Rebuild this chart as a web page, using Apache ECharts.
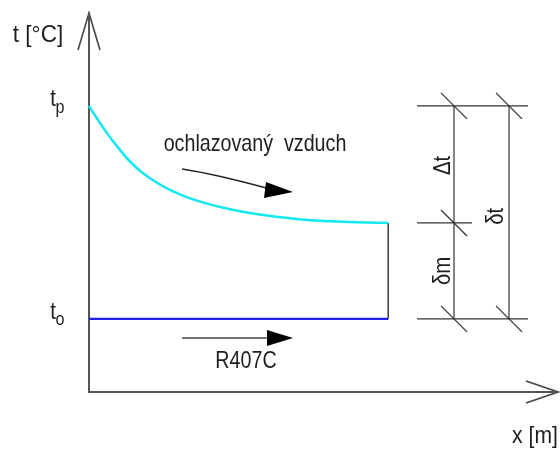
<!DOCTYPE html>
<html>
<head>
<meta charset="utf-8">
<script src="https://cdn.jsdelivr.net/npm/echarts@6/dist/echarts.min.js"></script>
<style>
  html, body { margin: 0; padding: 0; background: #fff; }
  #chart { width: 560px; height: 449px; }
</style>
</head>
<body>
<div id="chart"></div>
<script>
// Air temperature along the evaporator (cooled air) and refrigerant temperature
const curveX = [0, 3, 6, 10, 14, 18, 22, 28, 34, 41, 50, 63.8];
const curveT = [75.5, 69.8, 64.8, 59.3, 55.6, 52.9, 50.9, 48.8, 47.3, 46.1, 45.1, 44.6];
const refrigX = [0, 63.8];
const refrigT = [19.3, 19.3];
const axisMax = [100, 100];

const FONT = "'Liberation Sans', Arial, sans-serif";
const INK = '#333';

const chart = echarts.init(document.getElementById('chart'), null, { renderer: 'canvas' });

const airData = curveX.map((x, i) => [x, curveT[i]]);
const refData = refrigX.map((x, i) => [x, refrigT[i]]);
const xEnd = curveX[curveX.length - 1];
const tEnd = curveT[curveT.length - 1];
const tStart = curveT[0];
const tRef = refrigT[0];

chart.setOption({
  animation: false,
  backgroundColor: '#fff',
  grid: { left: 89, top: 13, right: 2, bottom: 57 },
  xAxis: {
    type: 'value', min: 0, max: axisMax[0],
    axisLine: { show: true, lineStyle: { color: '#555', width: 2 } },
    axisTick: { show: false }, axisLabel: { show: false }, splitLine: { show: false }
  },
  yAxis: {
    type: 'value', min: 0, max: axisMax[1],
    axisLine: { show: true, lineStyle: { color: '#555', width: 2 } },
    axisTick: { show: false }, axisLabel: { show: false }, splitLine: { show: false }
  },
  series: [
    {
      name: 'ochlazovaný vzduch', type: 'line', data: airData, smooth: 0.5,
      symbol: 'none', lineStyle: { color: '#12e8f2', width: 2.5 }, z: 5
    },
    {
      name: 'R407C', type: 'line', data: refData,
      symbol: 'none', lineStyle: { color: '#2020ee', width: 2.2 }, z: 5
    },
    {
      name: 'konec', type: 'line', data: [[xEnd, tEnd], [xEnd, tRef]],
      symbol: 'none', lineStyle: { color: '#444', width: 1.6 }, z: 4
    }
  ]
});

// pixel anchors from the axes
const px = (x, y) => chart.convertToPixel({ gridIndex: 0 }, [x, y]);
const yTop = px(0, axisMax[1]);
const xTip = px(axisMax[0], 0);
const yStartPx = px(0, tStart)[1];
const yEndPx = px(0, tEnd)[1];
const yRefPx = px(0, tRef)[1];

const g = [];
const line = (x1, y1, x2, y2, w, c) => g.push({
  type: 'line', shape: { x1, y1, x2, y2 }, style: { stroke: c || INK, lineWidth: w || 1.2 }, silent: true
});
// condensed lettering: horizontal squeeze of a regular sans face
const text = (t, x, y, size, sx, rotation) => g.push({
  type: 'text', x, y, scaleX: sx, scaleY: 1, rotation: rotation || 0,
  style: { text: t, font: size + 'px ' + FONT, fill: '#1e1e1e', align: 'center', verticalAlign: 'middle' }
});

// open arrowheads on the axes
g.push({ type: 'polyline', shape: { points: [[yTop[0] - 11, yTop[1] + 37], [yTop[0], yTop[1]], [yTop[0] + 11, yTop[1] + 37]] },
  style: { stroke: '#444', lineWidth: 1.6, fill: null } });
g.push({ type: 'polyline', shape: { points: [[xTip[0] - 32, xTip[1] - 11], [xTip[0], xTip[1]], [xTip[0] - 32, xTip[1] + 11]] },
  style: { stroke: '#444', lineWidth: 1.6, fill: null } });

// axis titles
text('t [°C]', 38, 35, 24, 0.94);
text('x [m]', 535, 436, 24, 0.88);

// level labels t_p and t_o
text('t', 53, yStartPx - 6, 24, 0.85);
text('p', 60, yStartPx + 2, 19, 0.85);
text('t', 53, yRefPx - 6, 24, 0.85);
text('o', 60, yRefPx + 1, 19, 0.85);

// flow direction: cooled air
g.push({ type: 'bezierCurve', shape: { x1: 182, y1: 169, cpx1: 215, cpy1: 174, x2: 270, y2: 189 },
  style: { stroke: '#222', lineWidth: 1.3, fill: null } });
g.push({ type: 'polygon', shape: { points: [[266, 182], [293, 192], [264, 198]] }, style: { fill: '#000' } });
text('ochlazovaný  vzduch', 255, 144, 24, 0.82);

// flow direction: refrigerant
line(182, 338, 268, 338, 1.4, '#444');
g.push({ type: 'polygon', shape: { points: [[267, 330], [293, 338], [267, 346]] }, style: { fill: '#000' } });
text('R407C', 246, 361, 24, 0.82);

// dimension lines on the right
const dx1 = 454, dx2 = 509;
line(417, yStartPx, 528, yStartPx);
line(417, yRefPx, 528, yRefPx);
line(417, yEndPx, 472, yEndPx);
line(dx1, yStartPx, dx1, yRefPx);
line(dx2, yStartPx, dx2, yRefPx);
[[dx1, yStartPx], [dx2, yStartPx], [dx1, yEndPx], [dx1, yRefPx], [dx2, yRefPx]].forEach(([cx, cy]) => {
  line(cx - 13, cy - 13, cx + 13, cy + 13, 1.2);
});
text('Δt', 443, (yStartPx + yEndPx) / 2 + 1, 24, 0.85, Math.PI / 2);
text('δm', 443, (yEndPx + yRefPx) / 2, 24, 0.85, Math.PI / 2);
text('δt', 496, (yStartPx + yRefPx) / 2 + 4, 24, 0.85, Math.PI / 2);

chart.setOption({ graphic: { elements: g } });
</script>
</body>
</html>
